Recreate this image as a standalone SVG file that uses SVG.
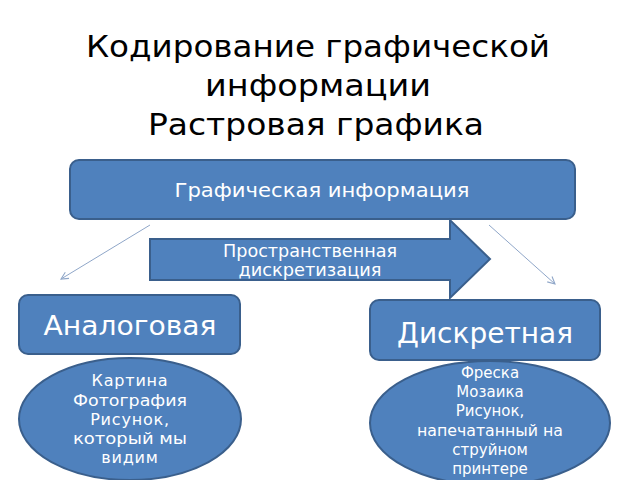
<svg xmlns="http://www.w3.org/2000/svg" width="640" height="480" viewBox="0 0 640 480">
<defs>
<style>
.box{fill:#4f81bd;stroke:#3a5f8c;stroke-width:2}
.t{font-family:"DejaVu Sans","Noto Sans",sans-serif;fill:#ffffff;text-anchor:middle}
.sp{letter-spacing:0.8px}
.title{font-family:"DejaVu Sans","Noto Sans",sans-serif;fill:#000000;text-anchor:middle;font-size:30px}
.conn{stroke:#8fa6c8;stroke-width:1;fill:none}
</style>
<marker id="ah" viewBox="0 0 10 10" refX="9" refY="5" markerWidth="9" markerHeight="9" orient="auto" markerUnits="userSpaceOnUse">
<path d="M1,1 L9,5 L1,9" fill="none" stroke="#8fa6c8" stroke-width="1.2"/>
</marker>
</defs>
<rect width="640" height="480" fill="#ffffff"/>
<g id="title">
<text class="title" x="318" y="57" textLength="464" lengthAdjust="spacingAndGlyphs">Кодирование графической</text>
<text class="title" x="318" y="96" textLength="226" lengthAdjust="spacingAndGlyphs">информации</text>
<text class="title" x="316" y="135" textLength="336" lengthAdjust="spacingAndGlyphs">Растровая графика</text>
</g>
<g id="connectors">
<line class="conn" x1="150" y1="225" x2="61" y2="279" marker-end="url(#ah)"/>
<line class="conn" x1="489" y1="225" x2="555" y2="284" marker-end="url(#ah)"/>
</g>
<g id="graphic-info">
<rect class="box" x="70" y="160" width="505" height="59" rx="9"/>
<text class="t" x="322" y="197" font-size="20" textLength="295" lengthAdjust="spacingAndGlyphs">Графическая информация</text>
</g>
<g id="discretization-arrow">
<path class="box" d="M150,239 L450,239 L450,220 L490,259 L450,298 L450,280 L150,280 Z" stroke="none"/>
<text class="t" x="310" y="257" font-size="17" textLength="174" lengthAdjust="spacingAndGlyphs">Пространственная</text>
<text class="t" x="310" y="276" font-size="17" textLength="143" lengthAdjust="spacingAndGlyphs">дискретизация</text>
</g>
<g id="analog">
<rect class="box" x="19" y="295" width="221" height="59" rx="9"/>
<text class="t" x="130" y="335" font-size="26" textLength="173" lengthAdjust="spacingAndGlyphs">Аналоговая</text>
</g>
<g id="analog-examples">
<ellipse class="box" cx="130" cy="419" rx="111" ry="61"/>
<text class="t sp" x="130" y="386" font-size="16">Картина</text>
<text class="t" x="130" y="406" font-size="16" textLength="114" lengthAdjust="spacingAndGlyphs">Фотография</text>
<text class="t sp" x="130" y="425" font-size="16">Рисунок,</text>
<text class="t" x="130" y="444" font-size="16" textLength="114" lengthAdjust="spacingAndGlyphs">который мы</text>
<text class="t sp" x="130" y="463" font-size="16">видим</text>
</g>
<g id="discrete">
<rect class="box" x="370" y="300" width="230" height="60" rx="9"/>
<text class="t" x="485" y="343" font-size="28" textLength="176" lengthAdjust="spacingAndGlyphs">Дискретная</text>
</g>
<g id="discrete-examples">
<ellipse class="box" cx="490" cy="423" rx="120" ry="62"/>
<text class="t" x="490" y="378" font-size="15">Фреска</text>
<text class="t" x="490" y="397" font-size="15">Мозаика</text>
<text class="t" x="490" y="416" font-size="15">Рисунок,</text>
<text class="t" x="490" y="436" font-size="15" textLength="146" lengthAdjust="spacingAndGlyphs">напечатанный на</text>
<text class="t" x="490" y="455" font-size="15">струйном</text>
<text class="t" x="490" y="474" font-size="15">принтере</text>
</g>
</svg>
